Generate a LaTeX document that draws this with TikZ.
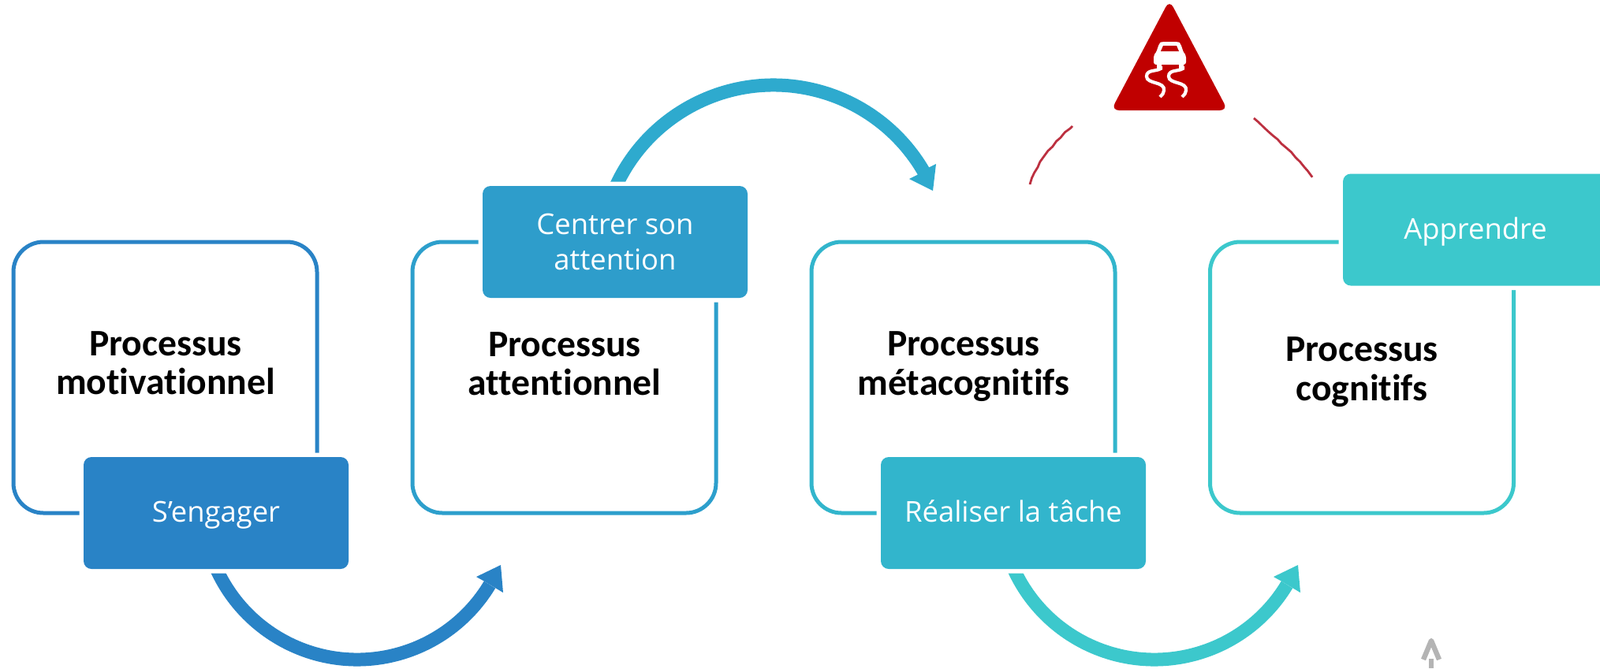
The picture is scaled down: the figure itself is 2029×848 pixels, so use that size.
\documentclass[tikz,border=0pt]{standalone}
\usepackage{fontspec}
\usetikzlibrary{decorations.pathmorphing}
\setmainfont{Carlito}[Ligatures=NoCommon]
\newfontfamily\tagfont{Open Sans}
\definecolor{cblue}{HTML}{2983C6}
\definecolor{cboxb}{HTML}{2D9FCC}
\definecolor{cboxc}{HTML}{32B5CC}
\definecolor{cteal}{HTML}{3CC8CC}
\definecolor{carrowb}{HTML}{2EAACE}
\definecolor{ctagb}{HTML}{2E9DCB}
\definecolor{cwarn}{HTML}{C00000}
\definecolor{cscratch}{HTML}{BC3040}
\definecolor{cghost}{HTML}{B4B4B4}
\tikzset{
  x=0.5pt,y=-0.5pt,
  frameboxst/.style={draw=#1,line width=2.5pt,rounded corners=19pt,rectangle,minimum width=192.5pt,minimum height=172pt,inner sep=0pt,fill=white},
  tagbox/.style={rectangle,fill=#1,rounded corners=5pt,minimum width=168pt,minimum height=71pt,inner sep=0pt,
    preaction={draw=white,line width=5.5pt},text=white,font=\tagfont\fontsize{18.2}{22.5}\selectfont,align=center},
  tagline/.style={text height=16pt,text depth=4.5pt},
  titlest/.style={font=\bfseries\fontsize{23.8}{24.6}\selectfont,align=center,text=black,inner sep=0pt},
  arcst/.style={draw=#1,line width=8.5pt},
  headst/.style={fill=#1},
  scratchst/.style={draw=cscratch,line width=1.4pt,decorate,decoration={random steps,segment length=4pt,amplitude=0.35pt}},
  ghostst/.style={draw=cghost,line width=3.2pt}
}
\begin{document}
\begin{tikzpicture}
\path[use as bounding box,clip] (0,0) rectangle (2029,848);
\fill[white] (0,0) rectangle (2029,848);

% frames
\node[frameboxst=cblue] (frameA) at (209.5,479) {};
\node[frameboxst=cboxb] (frameB) at (715.5,479) {};
\node[frameboxst=cboxc] (frameC) at (1221.5,479) {};
\node[frameboxst=cteal] (frameD) at (1727,479) {};

% arrows
\coordinate (arcA) at (453,641);
\coordinate (arcB) at (981,328);
\coordinate (arcC) at (1464,641);
\draw[arcst=cblue] (arcA) ++(165:196) arc[start angle=165,end angle=31,radius=196];
\draw[arcst=carrowb] (arcB) ++(195:220) arc[start angle=195,end angle=330,radius=220];
\draw[arcst=cteal] (arcC) ++(165:196) arc[start angle=165,end angle=31,radius=196];
\fill[headst=cblue] (604,732) -- (635,717) -- (638,752) -- (628,746) -- (613,737) -- cycle;
\fill[headst=carrowb] (1153,227) -- (1183,242) -- (1187,208) -- (1177,213) -- (1163,222) -- cycle;
\fill[headst=cteal] (1615,732) -- (1646,717) -- (1649,752) -- (1639,746) -- (1624,737) -- cycle;

% tags
\node[tagbox=cblue,tagline] (tagA) at (274,651) {S’engager};
\node[tagbox=ctagb] (tagB) at (780,307) {Centrer son\\attention};
\node[tagbox=cboxc,tagline] (tagC) at (1285,651) {Réaliser la tâche};
\node[tagbox=cteal,tagline] (tagD) at (1871,291.5) {Apprendre};

% titles
\node[titlest] (titleA) at (210,461) {Processus\\motivationnel};
\node[titlest] (titleB) at (716,462) {Processus\\attentionnel};
\node[titlest] (titleC) at (1222,465) {Processus\\métacognitifs};
\node[titlest] (titleD) at (1727,472) {Processus\\cognitifs};

% warning sign
\fill[cwarn,rounded corners=5pt] (1483,0) -- (1557,140) -- (1409,140) -- cycle;
\fill[white,rounded corners=1.5pt] (1463,82) -- (1463,70) -- (1466,67) -- (1470,55) -- (1473,53) -- (1494,53) -- (1497,55) -- (1501,67) -- (1504,70) -- (1504,82) -- cycle;
\fill[white] (1467,81) rectangle (1473,87) (1495,81) rectangle (1501,87);
\fill[cwarn] (1472,65) -- (1475,58) -- (1492,58) -- (1495,65) -- cycle;
\foreach \s in {0,28}{
  \draw[white,line width=2.1pt,xshift=\s*0.5pt]
    (1472,84) -- (1472,87) .. controls (1466,91) and (1454,88) .. (1454,97)
    .. controls (1454,107) and (1478,103) .. (1476,115)
    .. controls (1476,118) and (1474,120) .. (1471,123);
}

% red strokes
\coordinate (scrA) at (1306,234);
\coordinate (scrB) at (1360,160);
\coordinate (scrC) at (1590,150);
\coordinate (scrD) at (1664,225);
\draw[scratchst] (scrA) .. controls (1315,206) and (1337,180) .. (scrB);
\draw[scratchst] (scrC) .. controls (1615,172) and (1645,198) .. (scrD);

% grey arrow
\coordinate (ghostTip) at (1815,813);
\draw[ghostst,line join=round] (1805,837) -- (ghostTip) -- (1825,837);
\draw[ghostst] (1815,836) -- (1815,848);
\end{tikzpicture}
\end{document}
